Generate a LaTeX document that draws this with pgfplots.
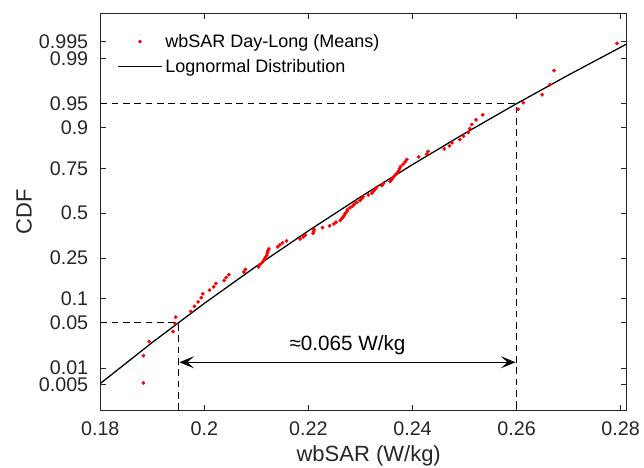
\documentclass[border=0pt]{standalone}
\usepackage{pgfplots}
\pgfplotsset{compat=1.18}
\usepackage{pgfplotstable}
\usepackage{fontspec}
\setmainfont{Liberation Sans}
\usetikzlibrary{arrows.meta}
\definecolor{axgray}{RGB}{38,38,38}

% x = wbSAR (W/kg), z = normal quantile of plotting position (i-0.5)/93
\pgfplotstableread{
x z
0.1883 -2.551
0.1883 -2.141
0.1894 -1.929
0.1940 -1.779
0.1944 -1.660
0.1945 -1.562
0.1974 -1.477
0.1981 -1.401
0.1988 -1.333
0.1994 -1.270
0.1997 -1.211
0.2010 -1.157
0.2018 -1.106
0.2022 -1.057
0.2038 -1.011
0.2042 -0.967
0.2047 -0.925
0.2076 -0.885
0.2079 -0.845
0.2104 -0.807
0.2107 -0.771
0.2112 -0.735
0.2115 -0.700
0.2117 -0.666
0.2120 -0.633
0.2121 -0.600
0.2122 -0.568
0.2124 -0.537
0.2141 -0.506
0.2145 -0.476
0.2150 -0.446
0.2158 -0.416
0.2184 -0.387
0.2190 -0.358
0.2194 -0.329
0.2209 -0.301
0.2210 -0.273
0.2211 -0.245
0.2227 -0.217
0.2241 -0.190
0.2249 -0.162
0.2253 -0.135
0.2261 -0.108
0.2264 -0.081
0.2267 -0.054
0.2269 -0.027
0.2271 0
0.2274 0.027
0.2275 0.054
0.2280 0.081
0.2285 0.108
0.2288 0.135
0.2293 0.162
0.2299 0.190
0.2302 0.217
0.2305 0.245
0.2315 0.273
0.2322 0.301
0.2325 0.329
0.2328 0.358
0.2331 0.387
0.2341 0.416
0.2344 0.446
0.2357 0.476
0.2360 0.506
0.2363 0.537
0.2366 0.568
0.2370 0.600
0.2373 0.633
0.2375 0.666
0.2377 0.700
0.2382 0.735
0.2386 0.771
0.2389 0.807
0.2412 0.845
0.2427 0.885
0.2430 0.925
0.2461 0.967
0.2471 1.011
0.2476 1.057
0.2491 1.106
0.2498 1.157
0.2507 1.211
0.2510 1.270
0.2514 1.333
0.2522 1.401
0.2535 1.477
0.2603 1.562
0.2613 1.660
0.2649 1.779
0.2664 1.929
0.2672 2.141
0.2793 2.551
}\datatable

% fitted lognormal (mu=-1.49095, sigma=0.08745), z at given x
\pgfplotstableread{
x z
0.1800 -2.5597
0.1900 -1.9415
0.2000 -1.3549
0.2100 -0.7970
0.2200 -0.2650
0.2300 0.2433
0.2400 0.7300
0.2500 1.1968
0.2600 1.6452
0.2700 2.0768
0.2800 2.4927
0.28115 2.5410
}\fittable

\begin{document}
\begin{tikzpicture}
\begin{axis}[
  at={(0,0)}, anchor=south west,
  scale only axis,
  width=394.8pt, height=298.05pt,
  xmin=0.18, xmax=0.28115,
  ymin=-2.967, ymax=3.003,
  axis line style={axgray, line width=0.75pt},
  tick style={axgray, line width=0.75pt},
  tick align=inside,
  major tick length=4pt,
  xtick={0.18,0.20,0.22,0.24,0.26,0.28},
  xticklabels={0.18,0.2,0.22,0.24,0.26,0.28},
  ytick={-2.5758,-2.3263,-1.6449,-1.2816,-0.6745,0,0.6745,1.2816,1.6449,2.3263,2.5758},
  yticklabels={0.005,0.01,0.05,0.1,0.25,0.5,0.75,0.9,0.95,0.99,0.995},
  /pgf/number format/assume math mode=true,
  ticklabel style={font=\fontsize{14.8}{16}\selectfont, text=axgray},
  yticklabel style={xshift=-5.5pt},
  xticklabel style={yshift=-5pt},
  every axis x label/.style={at={(axis description cs:0.51,-0.114)}, anchor=center, font=\fontsize{16.5}{18}\selectfont, text=axgray},
  every axis y label/.style={at={(axis description cs:-0.145,0.5)}, anchor=center, rotate=90, font=\fontsize{16.5}{18}\selectfont, text=axgray},
  xlabel={wbSAR (W/kg)},
  ylabel={CDF},
  clip=true,
  legend style={draw=none, fill=none, at={(axis description cs:0.032,0.955)}, anchor=north west,
    font=\fontsize{13.5}{15}\selectfont, text=black, row sep=3.5pt, inner sep=0pt},
  legend cell align=left,
  legend image code/.code={\draw[#1] plot coordinates {(0pt,0pt) (16.5pt,0pt) (33pt,0pt)};},
]
\addplot[only marks, mark=*, mark size=1.2pt, color=red, mark options={draw=none, fill=red}, mark repeat=1,
  legend image code/.code={\draw[only marks, mark=*, mark size=1.2pt, red, mark options={draw=none,fill=red}] plot coordinates {(16.5pt,0pt)};}]
  table[x=x, y=z] {\datatable};
\addlegendentry{wbSAR Day-Long (Means)}
\addplot[black, line width=0.95pt, mark=none] table[x=x, y=z] {\fittable};
\addlegendentry{Lognormal Distribution}
\addplot[black, line width=1.1pt, dash pattern=on 5pt off 3.5pt, forget plot]
  coordinates {(0.18,1.6449) (0.26,1.6449) (0.26,-2.967)};
\addplot[black, line width=1.1pt, dash pattern=on 5pt off 3.5pt, forget plot]
  coordinates {(0.18,-1.6449) (0.195,-1.6449) (0.195,-2.967)};
\addplot[black, line width=1.1pt, forget plot, {Stealth[length=11pt,width=9pt,inset=5pt]}-{Stealth[length=11pt,width=9pt,inset=5pt]}]
  coordinates {(0.1952,-2.24) (0.2598,-2.24)};
\node[font=\fontsize{15.5}{17}\selectfont, text=black] at (axis cs:0.2275,-1.99) {≈0.065 W/kg};
\end{axis}
\pgfresetboundingbox
\path[use as bounding box] (-75.2pt,-43pt) rectangle (407.8pt,308pt);
\end{tikzpicture}
\end{document}
